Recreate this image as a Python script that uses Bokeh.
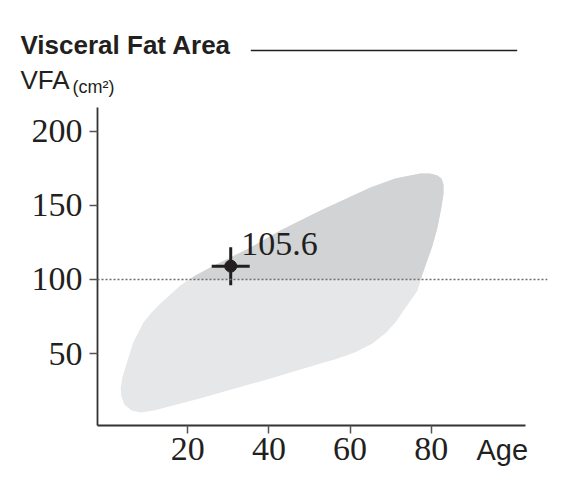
from bokeh.plotting import figure
from bokeh.models import Range1d, FixedTicker, Span, Label, ColumnDataSource
from bokeh.embed import file_html
from bokeh.resources import INLINE
from bokeh.core.properties import value

# ---------------- data ----------------
# outline of the normal-range cloud (age, VFA), clockwise from bottom-left
blob_age = [8.4, 6.2, 4.4, 3.7, 3.5, 3.9, 5.2, 6.6, 9.1, 11.1, 13.3, 18.2, 21.9, 25.6,
            35.5, 42.8, 52.7, 65.0, 71.1, 74.8, 77.3, 79.7, 81.5, 82.5, 83.0, 83.0,
            82.5, 81.5, 80.3, 79.0, 77.7, 76.6, 74.9, 73.2, 71.2, 68.7, 65.5, 61.3,
            56.4, 52.7, 40.4, 23.2, 11.7]
blob_vfa = [10.4, 11.7, 15.8, 21.2, 26.6, 34.0, 45.4, 57.5, 71.0, 77.8, 83.8, 96.0, 102.7, 108.1,
            121.6, 133.0, 146.5, 162.0, 168.1, 170.1, 171.4, 171.4, 170.1, 168.1, 164.0, 158.0,
            148.6, 135.0, 122.9, 112.8, 102.7, 92.6, 85.9, 79.2, 71.1, 63.7, 56.9, 50.9,
            46.2, 43.4, 33.3, 19.9, 11.7]
x_ticks = [20, 40, 60, 80]
y_ticks = [50, 100, 150, 200]
threshold = [100]
subject_age = [30.6]
subject_vfa = [109.0]
subject_label = ["105.6"]

title_text = "Visceral Fat Area"
y_title = "VFA"
y_unit = "(cm\u00b2)"
x_title = "Age"

# ---------------- layout ----------------
X_START, X_END = -2.2, 108.6
Y_START, Y_END = 1.6, 215.9
FW, FH = 450, 318


def clip_above(xs, ys, level):
    ox, oy = [], []
    n = len(xs)
    for i in range(n):
        x1, y1 = xs[i], ys[i]
        x2, y2 = xs[(i + 1) % n], ys[(i + 1) % n]
        in1, in2 = y1 >= level, y2 >= level
        if in1:
            ox.append(x1); oy.append(y1)
        if in1 != in2:
            t = (level - y1) / (y2 - y1)
            ox.append(x1 + t * (x2 - x1)); oy.append(level)
    return ox, oy


INK = "#231f20"

p = figure(frame_width=FW, frame_height=FH,
           x_range=Range1d(X_START, X_END), y_range=Range1d(Y_START, Y_END),
           output_backend="svg", toolbar_location=None,
           min_border_left=97, min_border_top=107, min_border_right=8, min_border_bottom=55)
p.outline_line_color = None
p.grid.visible = False
p.background_fill_color = "white"
p.border_fill_color = "white"

# cloud
p.patch(blob_age, blob_vfa, fill_color="#e6e7e8", line_color=None)
hx, hy = clip_above(blob_age, blob_vfa, threshold[0])
p.patch(hx, hy, fill_color="#d1d3d4", line_color=None)

# threshold line
p.add_layout(Span(location=threshold[0], dimension="width", line_color="#6d6e71",
                  line_width=1.5, line_dash="2 2"))

# subject point
src = ColumnDataSource(dict(x=subject_age, y=subject_vfa, t=subject_label))
p.scatter("x", "y", source=src, marker="cross", size=38, line_width=3, line_color=INK)
p.scatter("x", "y", source=src, marker="circle", size=12, fill_color=INK, line_color=INK)
p.text(x=[subject_age[0] + 2.6], y=[subject_vfa[0] + 14.6], text=subject_label,
       text_font=value("Liberation Serif"), text_font_size="34px", text_color=INK,
       text_baseline="middle", text_align="left")

# axes
for ax in (p.xaxis[0], p.yaxis[0]):
    ax.axis_line_color = "#333333"
    ax.axis_line_width = 1.8
    ax.major_tick_line_color = "#555555"
    ax.major_tick_line_width = 1.5
    ax.major_tick_out = 8
    ax.major_tick_in = 0
    ax.minor_tick_line_color = None
    ax.major_label_text_font = "Liberation Serif"
    ax.major_label_text_font_size = "34px"
    ax.major_label_text_color = INK
p.xaxis.ticker = FixedTicker(ticks=x_ticks)
p.yaxis.ticker = FixedTicker(ticks=y_ticks)
p.xaxis.bounds = (X_START, 103.3)
p.xaxis.major_label_standoff = 4
p.yaxis.major_label_standoff = 7

# title rule: a padded, filled label box (canvas pixels, side panel so it is not clipped)
if "padding" in Label.properties():
    p.add_layout(Label(x=383.5, y=50, x_units="canvas", y_units="canvas", text=" ",
                       text_font_size="1.5px", text_align="center", text_baseline="middle",
                       padding=(133, 0), background_fill_color=INK,
                       background_fill_alpha=1.0), "below")


# texts (canvas pixel positions; placed in a side panel so they are not clipped)
def add_text(x, y, text, size, bold=False):
    p.add_layout(Label(x=x, y=y, x_units="canvas", y_units="canvas", text=text,
                       text_font="Liberation Sans", text_font_style="bold" if bold else "normal",
                       text_font_size=size, text_color=INK, text_baseline="middle"), "below")


add_text(20, 44, title_text, "26px", bold=True)
add_text(20, 79, y_title, "26px")
add_text(72, 86, y_unit, "18px")
add_text(476, 449, x_title, "29px")

open("out.html", "w").write(file_html(p, INLINE))
